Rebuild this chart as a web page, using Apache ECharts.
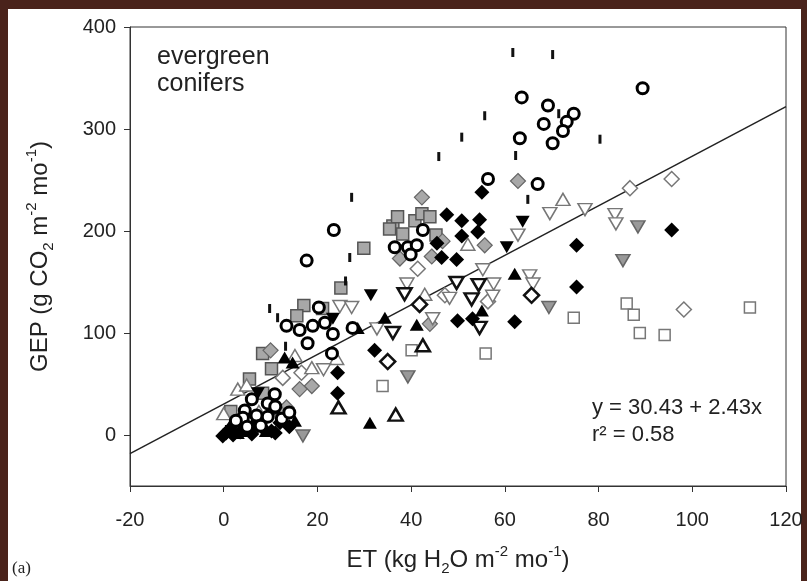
<!DOCTYPE html>
<html><head><meta charset="utf-8">
<script src="https://cdn.jsdelivr.net/npm/echarts@6/dist/echarts.min.js"></script>
<style>
html,body{margin:0;padding:0;background:#4a231b;width:807px;height:581px;overflow:hidden}
#paper{position:absolute;left:8px;top:9px;width:793px;height:572px;background:#fff}
#chart{position:absolute;left:0;top:0;width:807px;height:581px}
</style></head><body><div id="paper"></div><div id="chart"></div>
<script>
// ---- data (ET, GEP) ----
const xTicks = [-20, 0, 20, 40, 60, 80, 100, 120];
const yTicks = [0, 100, 200, 300, 400];
const fitLine = [[-20, -18.2], [120, 322.0]]; // y = 30.43 + 2.43x

const boldCircles = [[63.6,331],[69.2,323],[74.7,315],[73.2,307],[68.3,305],[72.4,298],[63.2,291],[70.2,286],[89.4,340],[56.4,251],[67.0,246],[23.5,201],[17.7,171],[42.5,201],[36.5,184],[39.3,184],[41.2,186],[39.9,177],[13.4,107],[16.2,103],[19.0,107],[21.6,110],[23.3,99],[27.5,105],[20.3,125],[17.9,90],[23.1,80],[10.9,40],[6.0,35],[9.4,31],[9.4,18],[7.0,19],[4.5,24],[4.1,17],[12.4,16],[7.9,9],[2.6,14],[11,28],[14,22],[5,8]];
const dashes = [[61.7,375],[70.2,373],[55.7,313],[71.5,315],[50.8,292],[80.3,290],[45.9,273],[62.3,274],[64.9,231],[27.3,233],[26.9,174],[26.0,151],[9.8,124],[11.5,115],[13.2,87]];
const graySquares = [[36.1,205],[37.1,214],[35.4,202],[38.2,197],[40.8,210],[42.3,217],[44.0,214],[45.3,196],[29.9,183],[25.0,144],[17.1,127],[15.6,117],[21.1,124],[8.3,80],[10.2,65],[5.5,55],[8.3,41],[1.5,23]];
const openSquares = [[74.7,115],[86.0,129],[87.5,118],[88.8,100],[94.1,98],[112.3,125],[40.1,83],[55.9,80],[33.9,48]];
const grayDiamonds = [[42.3,233],[62.8,249],[37.6,173],[44.4,175],[46.7,190],[55.7,186],[44.0,109],[18.8,48],[16.2,45],[13.4,27],[12.0,22],[10.0,83]];
const openDiamonds = [[12.6,56],[16.6,61],[41.4,163],[47.2,137],[56.4,131],[95.6,251],[86.7,242],[98.2,123]];
const boldDiamonds = [[65.7,137],[41.8,128],[35.0,72]];
const blackDiamonds = [[47.6,216],[50.8,210],[54.6,211],[50.8,195],[54.2,199],[46.5,174],[49.7,172],[55.1,238],[45.5,188],[75.3,186],[75.3,145],[95.6,201],[49.9,112],[53.1,114],[62.1,111],[32.2,83],[24.3,61],[24.3,41],[10.2,4],[-0.2,-1],[1.3,6],[4.5,6],[7.3,9],[0.5,2],[2,0],[3.5,3],[6,1],[8.5,6],[11,2],[14,8],[12,12]];
const blackTriDown = [[31.4,137],[63.8,209],[60.4,184],[23.3,114],[7.3,41],[1.7,4]];
const blackTriUp = [[41.2,108],[31.2,12],[62.1,158],[55.1,122],[14.7,71],[15.2,14],[34.4,115],[28.6,105],[1.3,9],[5.5,4],[13.0,76],[1,5],[3,2],[6,10],[9,4]];
const openTriDown = [[69.6,217],[62.8,196],[77.1,221],[55.3,162],[57.6,148],[57.4,136],[65.3,156],[66.0,148],[39.1,148],[44.6,114],[48.2,134],[83.5,216],[83.7,207],[24.8,126],[27.3,125],[21.3,64],[32.7,104]];
const boldTriDown = [[49.7,149],[54.4,147],[52.9,133],[54.6,105],[38.6,138],[36.1,100]];
const grayTriDown = [[88.4,204],[85.2,171],[69.4,125],[39.3,57],[16.9,-1]];
const openTriUp = [[72.4,231],[52.1,187],[42.9,138],[15.2,78],[18.8,66],[3.0,45],[24.1,75],[0,21],[7.5,23],[4.9,49]];
const boldTriUp = [[42.5,88],[36.7,20],[24.5,27],[10.5,27],[5.5,14]];

const FONT = 'Liberation Sans, Arial, Helvetica, sans-serif';
function sc(name, data, symbol, size, fill, stroke, bw, rot) {
  return { name, type: 'scatter', data, symbol, symbolSize: size, symbolRotate: rot || 0,
    itemStyle: { color: fill, borderColor: stroke, borderWidth: bw, opacity: 1 },
    emphasis: { disabled: true }, z: 3 };
}
const rich = {
  sup: { fontSize: 15, lineHeight: 15, verticalAlign: 'top', fontFamily: FONT, color: '#222' },
  sub: { fontSize: 15, lineHeight: 15, verticalAlign: 'bottom', fontFamily: FONT, color: '#222' }
};
const chart = echarts.init(document.getElementById('chart'), null, { renderer: 'canvas' });
chart.setOption({
  backgroundColor: 'transparent',
  animation: false,
  grid: { left: 130, right: 21, top: 27, bottom: 94, show: true, borderColor: '#333', borderWidth: 1, backgroundColor: 'transparent' },
  xAxis: {
    type: 'value', min: -20, max: 120, interval: 20,
    name: 'ET (kg H{sub|2}O m{sup|-2} mo{sup|-1})', nameLocation: 'middle', nameGap: 58,
    nameTextStyle: { fontSize: 24, lineHeight: 32, color: '#222', fontFamily: FONT, rich },
    axisLine: { onZero: false, lineStyle: { color: '#333', width: 1 } },
    axisTick: { length: 6, lineStyle: { color: '#333' } },
    axisLabel: { fontSize: 20, color: '#222', fontFamily: FONT, margin: 24 },
    splitLine: { show: false }
  },
  yAxis: {
    type: 'value', min: -50, max: 400,
    name: 'GEP (g CO{sub|2} m{sup|-2} mo{sup|-1})', nameLocation: 'middle', nameGap: 74, nameRotate: 90,
    nameTextStyle: { fontSize: 24, lineHeight: 32, color: '#222', fontFamily: FONT, rich },
    axisLine: { show: true, onZero: false, lineStyle: { color: '#333', width: 1 } },
    axisTick: { show: true, length: 6, customValues: yTicks, lineStyle: { color: '#333' } },
    axisLabel: { fontSize: 20, color: '#222', fontFamily: FONT, margin: 14, customValues: yTicks },
    splitLine: { show: false }
  },
  graphic: [
    { type: 'text', left: 157, top: 44, style: { text: 'evergreen\nconifers', fontSize: 25, lineHeight: 27, fill: '#222', fontFamily: FONT } },
    { type: 'text', left: 592, top: 397, style: { text: 'y = 30.43 + 2.43x', fontSize: 22, fill: '#222', fontFamily: FONT } },
    { type: 'text', left: 592, top: 424, style: { text: 'r² = 0.58', fontSize: 22, fill: '#222', fontFamily: FONT } },
    { type: 'text', left: 12, top: 560, style: { text: '(a)', fontSize: 17, fill: '#222', fontFamily: 'Liberation Serif, Times New Roman, serif' } }
  ],
  series: [
    { type: 'line', data: fitLine, symbol: 'none', lineStyle: { color: '#222', width: 1.5 }, z: 2, silent: true },
    sc('openSquares', openSquares, 'rect', 11, '#fff', '#777', 1.5),
    sc('graySquares', graySquares, 'rect', 12, '#a8a8a8', '#555', 1.5),
    sc('openDiamonds', openDiamonds, 'diamond', [15, 15], '#fff', '#777', 1.5),
    sc('grayDiamonds', grayDiamonds, 'diamond', [15, 15], '#a8a8a8', '#666', 1.2),
    sc('openTriUp', openTriUp, 'triangle', [14, 12], '#fff', '#777', 1.5),
    sc('openTriDown', openTriDown, 'triangle', [14, 12], '#fff', '#777', 1.5, 180),
    sc('grayTriDown', grayTriDown, 'triangle', [14, 12], '#999', '#666', 1.5, 180),
    sc('boldTriDown', boldTriDown, 'triangle', [14, 12], '#fff', '#111', 2.5, 180),
    sc('boldTriUp', boldTriUp, 'triangle', [14, 12], '#fff', '#111', 2.5),
    sc('boldDiamonds', boldDiamonds, 'diamond', [15, 15], '#fff', '#111', 2.5),
    sc('blackDiamonds', blackDiamonds, 'diamond', [15, 15], '#000', '#000', 0),
    sc('blackTriDown', blackTriDown, 'triangle', [14, 12], '#000', '#000', 0, 180),
    sc('blackTriUp', blackTriUp, 'triangle', [14, 12], '#000', '#000', 0),
    sc('boldCircles', boldCircles, 'circle', 11, '#fff', '#000', 3),
    sc('dashes', dashes, 'rect', [3, 9], '#111', '#111', 0)
  ]
});
</script></body></html>
